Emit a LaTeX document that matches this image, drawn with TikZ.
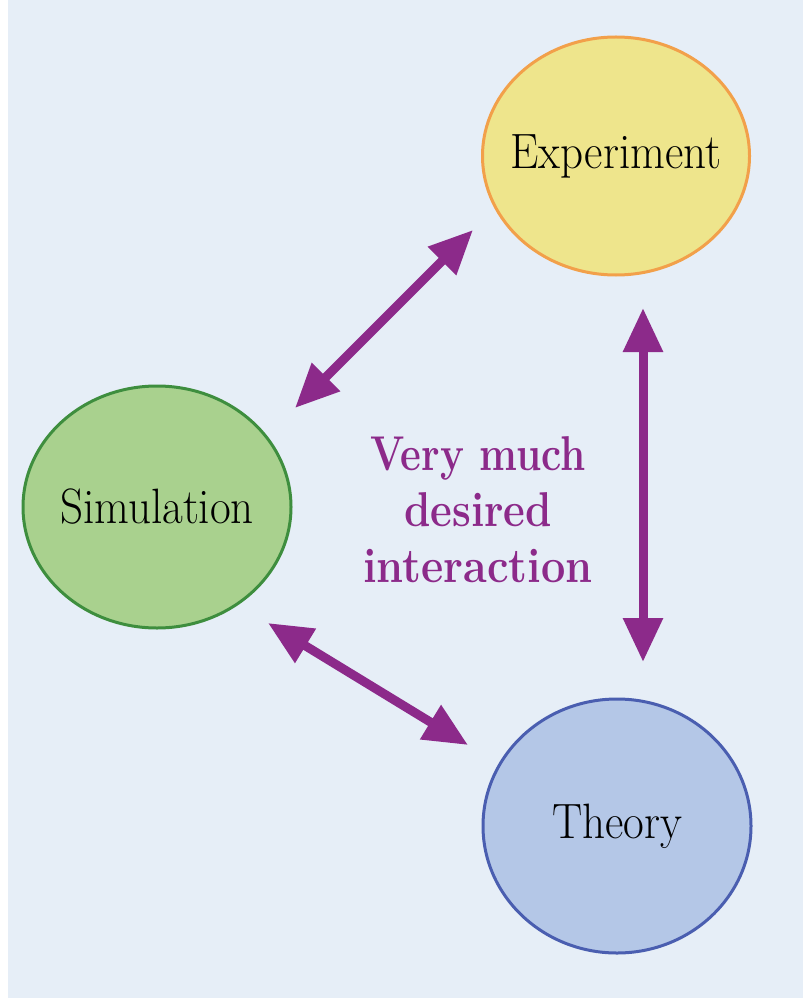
\documentclass[tikz,border=0pt]{standalone}
\usetikzlibrary{arrows.meta,shapes.geometric}
\definecolor{bgc}{HTML}{E6EEF7}
\definecolor{expfill}{HTML}{EEE58C}
\definecolor{expline}{HTML}{F2A04A}
\definecolor{simfill}{HTML}{A9D18E}
\definecolor{simline}{HTML}{3E8E3E}
\definecolor{thfill}{HTML}{B4C7E7}
\definecolor{thline}{HTML}{4A5EB0}
\definecolor{purp}{HTML}{8C2A8A}
\newcommand{\tallish}[1]{\scalebox{0.98}[1.08]{#1}}
\tikzset{
  blob/.style={ellipse, line width=3pt, inner sep=0pt},
  blobtext/.style={font=\fontsize{46}{50}\selectfont, text=black},
  dbl/.style={purp, line width=9pt, {Triangle[length=44pt,width=38pt]}-{Triangle[length=44pt,width=38pt]}},
  lbl/.style={purp, align=center, font=\fontsize{47}{56}\selectfont\bfseries}
}
\begin{document}
\begin{tikzpicture}[x=1pt,y=-1pt]
\useasboundingbox (0,0) rectangle (803,1000);
\fill[white] (0,0) rectangle (803,1000);
\fill[bgc] (8,0) rectangle (803,998);
\node[blob, draw=expline, fill=expfill, minimum width=267pt, minimum height=238pt,
      label={[blobtext]center:\tallish{Experiment}}] (exp) at (616,156) {};
\node[blob, draw=simline, fill=simfill, minimum width=268pt, minimum height=242pt,
      label={[blobtext]center:\tallish{Simulation}}] (sim) at (157,507) {};
\node[blob, draw=thline, fill=thfill, minimum width=268pt, minimum height=254pt,
      label={[blobtext]center:\tallish{Theory}}] (th) at (617,826) {};
\node[lbl] (txt) at (478,510) {\scalebox{0.86}[1.04]{Very much}\\\scalebox{0.9}[1.04]{desired}\\\scalebox{0.92}[1.04]{interaction}};
\coordinate (a1s) at (295,408);
\coordinate (a1e) at (473,230);
\coordinate (a2s) at (643,308);
\coordinate (a2e) at (643,662);
\coordinate (a3s) at (268,623);
\coordinate (a3e) at (468,745);
\draw[dbl] (a1s) -- (a1e);
\draw[dbl] (a2s) -- (a2e);
\draw[dbl] (a3s) -- (a3e);
\end{tikzpicture}
\end{document}
